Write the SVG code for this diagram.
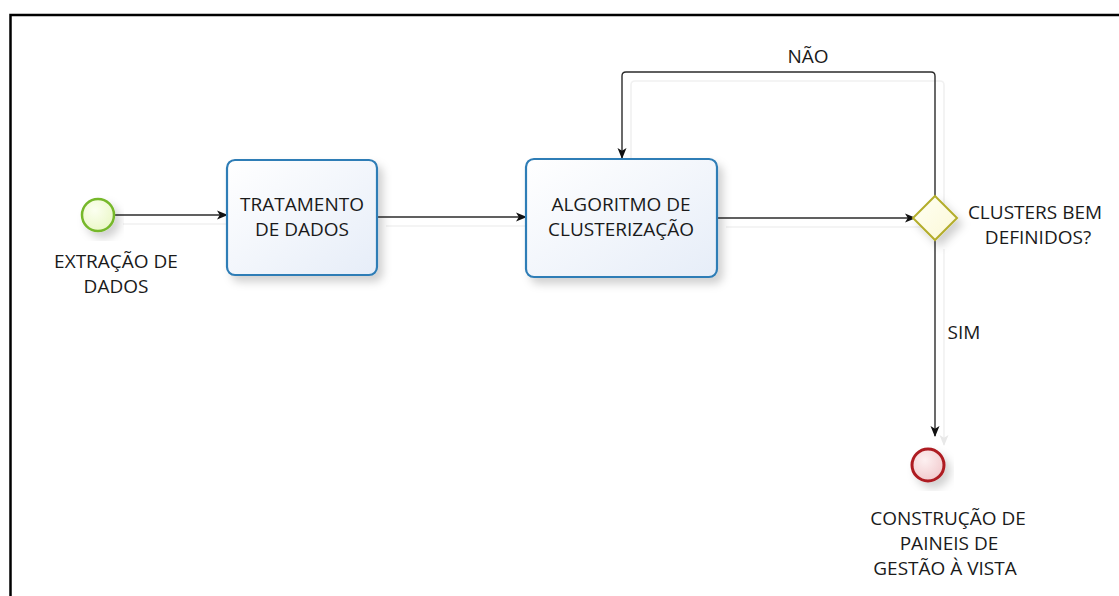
<svg xmlns="http://www.w3.org/2000/svg" width="1119" height="596" viewBox="0 0 1119 596">
  <defs>
    <style>
      .lbl { font-family: "Open Sans", "Noto Sans", "DejaVu Sans", sans-serif; font-size: 19px; fill: #1a1a1a; text-anchor: middle; }
      .task { fill: url(#taskFill); stroke: #2f7db6; stroke-width: 2.2; }
      .flow { fill: none; stroke: #2b2b2b; stroke-width: 1.4; }
      .flowShadow { fill: none; stroke: #f1f1f1; stroke-width: 1.6; }
    </style>
    <linearGradient id="taskFill" x1="0" y1="0" x2="1" y2="1">
      <stop offset="0" stop-color="#ffffff"/>
      <stop offset="1" stop-color="#e6edf8"/>
    </linearGradient>
    <radialGradient id="startFill" cx="0.4" cy="0.35" r="0.7">
      <stop offset="0" stop-color="#fbfff0"/>
      <stop offset="1" stop-color="#eaf7c6"/>
    </radialGradient>
    <radialGradient id="endFill" cx="0.4" cy="0.35" r="0.7">
      <stop offset="0" stop-color="#fdf0f1"/>
      <stop offset="1" stop-color="#f1c9cc"/>
    </radialGradient>
    <linearGradient id="gateFill" x1="0" y1="0" x2="1" y2="1">
      <stop offset="0" stop-color="#fffff4"/>
      <stop offset="1" stop-color="#fbf8d6"/>
    </linearGradient>
    <filter id="shadow" x="-20%" y="-20%" width="150%" height="150%">
      <feDropShadow dx="5" dy="6" stdDeviation="4" flood-color="#000" flood-opacity="0.18"/>
    </filter>
    <marker id="arrow" markerWidth="11" markerHeight="11" refX="10" refY="5.5" orient="auto" markerUnits="userSpaceOnUse">
      <path d="M0,1 L11,5.5 L0,10 L2.8,5.5 Z" fill="#111"/>
    </marker>
    <marker id="arrowShadow" markerWidth="11" markerHeight="11" refX="10" refY="5.5" orient="auto" markerUnits="userSpaceOnUse">
      <path d="M0,1 L11,5.5 L0,10 L2.8,5.5 Z" fill="#e8e8e8"/>
    </marker>
  </defs>

  <rect width="1119" height="596" fill="#ffffff"/>

  <!-- page frame -->
  <path d="M10.5,600 V15 H1125" fill="none" stroke="#000" stroke-width="2.5"/>

  <!-- sequence flows -->
  <g id="connectors">
    <g transform="translate(9,9)">
      <path class="flowShadow" d="M114,215 H227"/>
      <path class="flowShadow" d="M377,217 H526"/>
      <path class="flowShadow" d="M717,218 H915"/>
      <path class="flowShadow" d="M935,196 V76 Q935,72 931,72 H626 Q622,72 622,76 V158"/>
      <path class="flowShadow" d="M935,240 V436" marker-end="url(#arrowShadow)"/>
    </g>
    <path class="flow" d="M114,215 H227" marker-end="url(#arrow)"/>
    <path class="flow" d="M377,217 H526" marker-end="url(#arrow)"/>
    <path class="flow" d="M717,218 H915" marker-end="url(#arrow)"/>
    <path class="flow" d="M935,196 V76 Q935,72 931,72 H626 Q622,72 622,76 V158" marker-end="url(#arrow)"/>
    <path class="flow" d="M935,240 V436" marker-end="url(#arrow)"/>
    <text class="lbl" x="808" y="63">NÃO</text>
    <text class="lbl" x="964" y="339">SIM</text>
  </g>

  <g id="start-extracao">
    <circle cx="98" cy="215" r="16" fill="url(#startFill)" stroke="#76b82a" stroke-width="2.5" filter="url(#shadow)"/>
    <text class="lbl" x="116" y="268">EXTRAÇÃO DE</text>
    <text class="lbl" x="116" y="293">DADOS</text>
  </g>

  <g id="task-tratamento">
    <rect class="task" x="227" y="160" width="150" height="115" rx="8" filter="url(#shadow)"/>
    <text class="lbl" x="302" y="211">TRATAMENTO</text>
    <text class="lbl" x="302" y="236">DE DADOS</text>
  </g>

  <g id="task-algoritmo">
    <rect class="task" x="526" y="159" width="191" height="118" rx="8" filter="url(#shadow)"/>
    <text class="lbl" x="621" y="211">ALGORITMO DE</text>
    <text class="lbl" x="621" y="236">CLUSTERIZAÇÃO</text>
  </g>

  <g id="gateway-clusters">
    <path d="M935,196 L957,218 L935,240 L913,218 Z" fill="url(#gateFill)" stroke="#b3ad2c" stroke-width="2" filter="url(#shadow)"/>
    <text class="lbl" x="1035" y="219">CLUSTERS BEM</text>
    <text class="lbl" x="1038" y="244">DEFINIDOS?</text>
  </g>

  <g id="end-paineis">
    <circle cx="928" cy="465" r="16" fill="url(#endFill)" stroke="#ae1c22" stroke-width="3" filter="url(#shadow)"/>
    <text class="lbl" x="948" y="525">CONSTRUÇÃO DE</text>
    <text class="lbl" x="949" y="550">PAINEIS DE</text>
    <text class="lbl" x="945" y="575">GESTÃO À VISTA</text>
  </g>
</svg>
